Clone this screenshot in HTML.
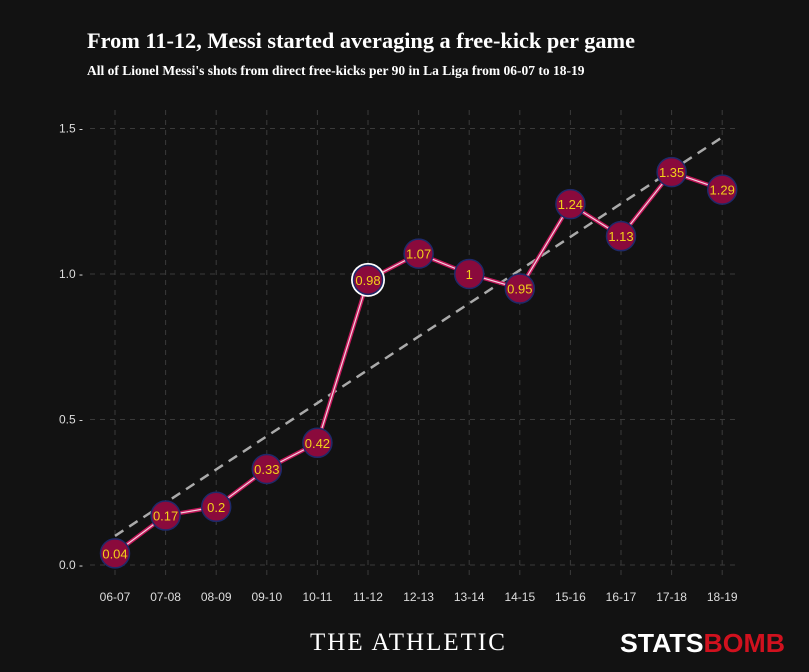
<!DOCTYPE html>
<html><head><meta charset="utf-8"><style>
body{margin:0;background:#121212;width:809px;height:667px;overflow:hidden;font-family:"Liberation Sans",sans-serif}
</style></head><body>
<svg width="809" height="667">
<rect width="809" height="667" fill="#121212"/>
<text x="87" y="48" fill="#fff" font-family="Liberation Serif,serif" font-weight="bold" font-size="22.3">From 11-12, Messi started averaging a free-kick per game</text>
<text x="87" y="75" fill="#fff" font-family="Liberation Serif,serif" font-weight="bold" font-size="13.5">All of Lionel Messi's shots from direct free-kicks per 90 in La Liga from 06-07 to 18-19</text>
<g id="grid"></g><g id="axes"></g><g id="trend"></g><g id="series"></g>
<text x="310" y="650" fill="#fff" font-family="Liberation Serif,serif" font-size="25" letter-spacing="2">THE ATHLETIC</text>
<text x="620" y="652" fill="#fff" font-weight="900" font-size="26" textLength="165" lengthAdjust="spacingAndGlyphs">STATS<tspan fill="#d0111e">BOMB</tspan></text>
</svg>
<script>
const categories=["06-07","07-08","08-09","09-10","10-11","11-12","12-13","13-14","14-15","15-16","16-17","17-18","18-19"];
const values=[0.04,0.17,0.2,0.33,0.42,0.98,1.07,1,0.95,1.24,1.13,1.35,1.29];
const labels=["0.04","0.17","0.2","0.33","0.42","0.98","1.07","1","0.95","1.24","1.13","1.35","1.29"];
const yTicks=[0,0.5,1.0,1.5];
const yTickLabels=["0.0","0.5","1.0","1.5"];
const trendStart=0.10, trendEnd=1.47;
const highlightIndex=5;
const NS="http://www.w3.org/2000/svg";
const x=i=>115+i*50.6;
const y=v=>565-v*291;
function mk(tag,attrs,parent,txt){const e=document.createElementNS(NS,tag);for(const k in attrs)e.setAttribute(k,attrs[k]);if(txt!=null)e.textContent=txt;document.getElementById(parent).appendChild(e);return e;}
yTicks.forEach((t,i)=>{
 const g=mk('line',{x1:90,x2:735,y1:y(t),y2:y(t),stroke:'#3a3a3a','stroke-dasharray':'5,5'},'grid');
 
 
 const l=mk('text',{x:83,y:y(t)+4,fill:'#ddd','font-size':12,'text-anchor':'end'},'axes',yTickLabels[i]+' -');
 
 
});
categories.forEach((c,i)=>{
 const g=mk('line',{x1:x(i),x2:x(i),y1:110,y2:580,stroke:'#3a3a3a','stroke-dasharray':'5,5'},'grid');
 
 
 const l=mk('text',{x:x(i),y:601,fill:'#ddd','font-size':12,'text-anchor':'middle'},'axes',c);
 
 
});
const tl=mk('line',{x1:x(0),y1:y(trendStart),x2:x(categories.length-1),y2:y(trendEnd),stroke:'#aaa','stroke-width':2.5,'stroke-dasharray':'10,7'},'trend');


const pts=values.map((v,i)=>x(i)+','+y(v)).join(' ');
const l1=mk('polyline',{points:pts,fill:'none',stroke:'#c2185b','stroke-width':4},'series');


const l2=mk('polyline',{points:pts,fill:'none',stroke:'#f4d0dc','stroke-width':1.2},'series');


values.forEach((v,i)=>{
 if(i===highlightIndex){const h=mk('circle',{cx:x(i),cy:y(v),r:17,fill:'#fff'},'series');
  
  }
 const c=mk('circle',{cx:x(i),cy:y(v),r:14.5,fill:'#8a0a3c',stroke:'#1e2a6a','stroke-width':1.5},'series');
 
 
 const t=mk('text',{x:x(i),y:y(v)+5,fill:'#f2d21a','font-size':13,'text-anchor':'middle'},'series',labels[i]);
 
 
});
</script>
</body></html>
